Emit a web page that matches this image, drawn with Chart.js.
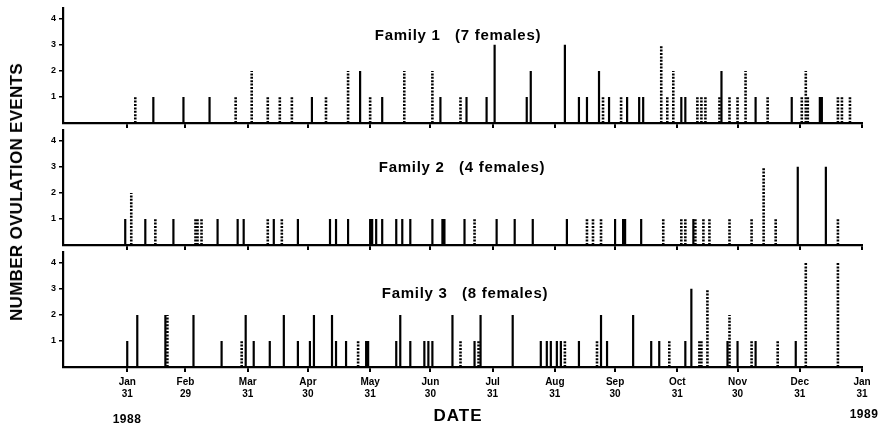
<!DOCTYPE html>
<html lang="en">
<head>
<meta charset="UTF-8">
<title>Ovulation events by family</title>
<style>
    body {
        margin: 0;
        width: 890px;
        height: 428px;
        position: relative;
        overflow: hidden;
        background: #fff;
        font-family: "Liberation Sans", Arial, sans-serif;
        color: #000;
    }
    canvas { position: absolute; left: 0; }
    .label {
        position: absolute;
        font-weight: bold;
        white-space: pre;
        transform: translate(-50%, -50%);
    }
    .ftitle { font-size: 15px; letter-spacing: 0.7px; }
    .ytitle {
        position: absolute;
        font-weight: bold;
        font-size: 17px;
        letter-spacing: 0.3px;
        white-space: nowrap;
        left: 17px;
        top: 192px;
        transform: translate(-50%, -50%) rotate(-90deg);
    }
</style>
<script src="https://cdn.jsdelivr.net/npm/chart.js"></script>
</head>
<body>
    <canvas id="fam1" width="890" height="132" style="top:0"></canvas>
    <canvas id="fam2" width="890" height="132" style="top:122px"></canvas>
    <canvas id="fam3" width="890" height="184" style="top:244px"></canvas>

    <div class="label ftitle" style="left:458px; top:34px">Family 1   (7 females)</div>
    <div class="label ftitle" style="left:462px; top:166px">Family 2   (4 females)</div>
    <div class="label ftitle" style="left:465px; top:292px">Family 3   (8 females)</div>
    <div class="ytitle">NUMBER OVULATION EVENTS</div>
    <div class="label" style="left:458px; top:416px; font-size:17px; letter-spacing:1px">DATE</div>
    <div class="label" style="left:127px; top:419px; font-size:12px; letter-spacing:0.5px">1988</div>
    <div class="label" style="left:864px; top:414px; font-size:12px; letter-spacing:0.5px">1989</div>

<script>
    // days counted from Jan 31, 1988
    const tickDays = [0, 29, 60, 90, 121, 151, 182, 213, 243, 274, 304, 335, 366];
    const tickLabels = [['Jan', '31'], ['Feb', '29'], ['Mar', '31'], ['Apr', '30'], ['May', '31'], ['Jun', '30'],
        ['Jul', '31'], ['Aug', '31'], ['Sep', '30'], ['Oct', '31'], ['Nov', '30'], ['Dec', '31'], ['Jan', '31']];
    const countTicks = [1, 2, 3, 4];

    // Family 1 (7 females)
    const fam1SolidDays = [13, 28, 41, 92, 116, 127, 156, 169, 179, 183, 199, 201, 218, 225, 229, 235, 240, 249, 255, 257, 276, 278, 296, 313, 331, 345, 346];
    const fam1SolidCounts = [1, 1, 1, 1, 2, 1, 1, 1, 1, 3, 1, 2, 3, 1, 1, 2, 1, 1, 1, 1, 1, 1, 2, 1, 1, 1, 1];
    const fam1DottedDays = [4, 54, 62, 70, 76, 82, 99, 110, 121, 138, 152, 166, 237, 246, 266, 269, 272, 284, 286, 288, 295, 300, 304, 308, 319, 336, 338, 339, 354, 356, 360];
    const fam1DottedCounts = [1, 1, 2, 1, 1, 1, 1, 2, 1, 2, 2, 1, 1, 1, 3, 1, 2, 1, 1, 1, 1, 1, 1, 2, 1, 1, 2, 1, 1, 1, 1];

    // Family 2 (4 females)
    const fam2SolidDays = [-1, 9, 23, 45, 55, 58, 73, 85, 101, 104, 110, 121, 122, 124, 127, 134, 137, 141, 152, 157, 158, 168, 184, 193, 202, 219, 243, 247, 248, 256, 282, 334, 348];
    const fam2SolidCounts = [1, 1, 1, 1, 1, 1, 1, 1, 1, 1, 1, 1, 1, 1, 1, 1, 1, 1, 1, 1, 1, 1, 1, 1, 1, 1, 1, 1, 1, 1, 1, 3, 3];
    const fam2DottedDays = [2, 14, 34, 35, 37, 70, 77, 173, 229, 232, 236, 267, 276, 278, 283, 287, 290, 300, 311, 317, 323, 354];
    const fam2DottedCounts = [2, 1, 1, 1, 1, 1, 1, 1, 1, 1, 1, 1, 1, 1, 1, 1, 1, 1, 1, 3, 1, 1];

    // Family 3 (8 females)
    const fam3SolidDays = [0, 5, 19, 33, 47, 59, 63, 71, 78, 85, 91, 93, 102, 104, 109, 119, 120, 134, 136, 141, 148, 150, 152, 162, 173, 176, 192, 206, 209, 211, 214, 216, 225, 236, 239, 252, 261, 265, 278, 281, 299, 304, 313, 333];
    const fam3SolidCounts = [1, 2, 2, 2, 1, 2, 1, 1, 2, 1, 1, 2, 2, 1, 1, 1, 1, 1, 2, 1, 1, 1, 1, 2, 1, 2, 2, 1, 1, 1, 1, 1, 1, 2, 1, 2, 1, 1, 1, 3, 1, 1, 1, 1];
    const fam3DottedDays = [20, 57, 115, 166, 175, 218, 234, 270, 285, 286, 289, 300, 311, 324, 338, 354];
    const fam3DottedCounts = [2, 1, 1, 1, 1, 1, 1, 1, 1, 1, 3, 2, 1, 1, 4, 4];

    // each event becomes a vertical stem from 0 to its count, with a gap after it
    function stems(days, counts) {
        const pts = [];
        days.forEach((d, i) => {
            pts.push({ x: d, y: 0 }, { x: d, y: counts[i] }, { x: d, y: null });
        });
        return pts;
    }

    const tickFont = { family: '"Liberation Sans", Arial, sans-serif', weight: 'bold', size: 10 };

    function makePanel(id, solidDays, solidCounts, dottedDays, dottedCounts, showDates, padTop, axisHeight) {
        new Chart(document.getElementById(id), {
            type: 'line',
            data: {
                datasets: [{
                    data: stems(solidDays, solidCounts),
                    borderColor: '#000',
                    borderWidth: 2.2,
                    pointRadius: 0
                }, {
                    data: stems(dottedDays, dottedCounts),
                    borderColor: '#000',
                    borderWidth: 2.6,
                    borderDash: [2, 1.4],
                    pointRadius: 0
                }]
            },
            options: {
                responsive: false,
                animation: false,
                events: [],
                layout: { padding: { top: padTop, right: 28, left: 0, bottom: 0 } },
                plugins: { legend: { display: false }, tooltip: { enabled: false } },
                scales: {
                    x: {
                        type: 'linear',
                        min: -32,
                        max: 366,
                        afterBuildTicks: s => { s.ticks = tickDays.map(v => ({ value: v })); },
                        afterFit: s => { s.height = axisHeight; },
                        ticks: {
                            display: showDates,
                            autoSkip: false,
                            maxRotation: 0,
                            padding: 4,
                            color: '#000',
                            font: tickFont,
                            callback: v => tickLabels[tickDays.indexOf(v)]
                        },
                        grid: { drawOnChartArea: false, tickLength: 5, color: '#000', lineWidth: 2 },
                        border: { color: '#000', width: 2.2 }
                    },
                    y: {
                        min: 0,
                        max: 4.4,
                        afterBuildTicks: s => { s.ticks = countTicks.map(v => ({ value: v })); },
                        afterFit: s => { s.width = 63; },
                        ticks: { padding: 3, color: '#000', font: { ...tickFont, size: 9 } },
                        grid: { drawOnChartArea: false, tickLength: 4, color: '#000', lineWidth: 1.5 },
                        border: { color: '#000', width: 2.2 }
                    }
                }
            }
        });
    }

    makePanel('fam1', fam1SolidDays, fam1SolidCounts, fam1DottedDays, fam1DottedCounts, false, 6, 9);
    makePanel('fam2', fam2SolidDays, fam2SolidCounts, fam2DottedDays, fam2DottedCounts, false, 5, 9);
    makePanel('fam3', fam3SolidDays, fam3SolidCounts, fam3DottedDays, fam3DottedCounts, true, 3, 61);
</script>
</body>
</html>
